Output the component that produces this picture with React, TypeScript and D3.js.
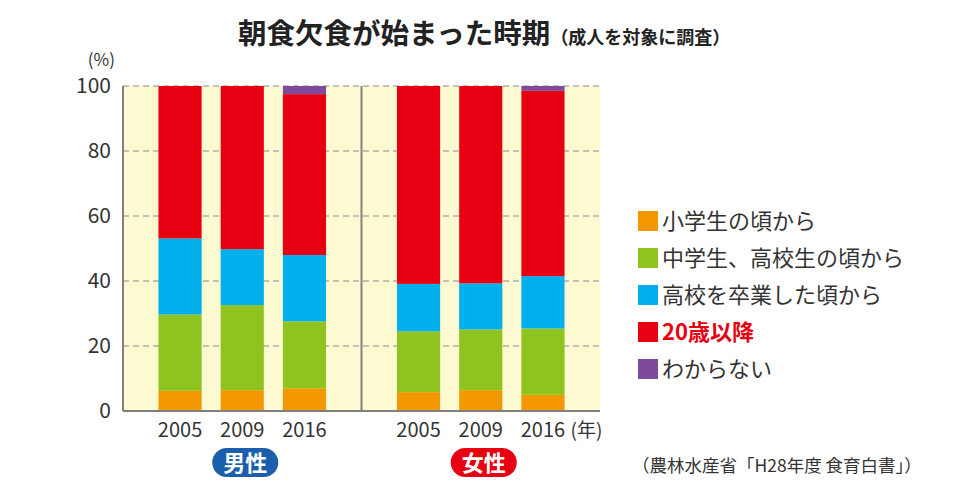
import { useEffect, useRef } from 'react';
import * as d3 from 'd3';

// categories
const panels = ['男性', '女性'];
const years = ['2005', '2009', '2016'];
const categories = ['小学生の頃から', '中学生、高校生の頃から', '高校を卒業した頃から', '20歳以降', 'わからない'];
const colors = ['#f39800', '#8fc31f', '#00afec', '#e60012', '#7f4a9c'];
const badgeColors = ['#1b5eac', '#e60012'];
const yTicks = [0, 20, 40, 60, 80, 100];

// values (%), order: 男性 2005/2009/2016, 女性 2005/2009/2016
const elementary = [6.2, 6.4, 7.0, 5.8, 6.4, 5.0];
const juniorHigh = [23.5, 26.2, 20.6, 18.7, 18.7, 20.4];
const afterHigh = [23.4, 17.2, 20.4, 14.6, 14.2, 16.1];
const over20 = [46.9, 50.2, 49.5, 60.9, 60.7, 57.0];
const unknown = [0, 0, 2.5, 0, 0, 1.5];

const series = [elementary, juniorHigh, afterHigh, over20, unknown];

const FONT = '"Noto Sans CJK JP", "Noto Sans", sans-serif';

export default function App() {
  const width = 960;
  const height = 500;
  const marginTop = 86;
  const marginBottom = 89;
  const marginLeft = 123;
  const plotRight = 600;

  const y = d3.scaleLinear().domain([0, 100]).range([height - marginBottom, marginTop]);
  const panelX = d3.scaleBand().domain(panels).range([marginLeft, plotRight]).padding(0);
  const yearX = d3.scaleBand().domain(years).range([0, panelX.bandwidth()])
    .paddingInner(0.306).paddingOuter(0.57).align(0.5);

  const rows = panels.flatMap((p, pi) => years.map((yr, yi) => {
    const i = pi * years.length + yi;
    const row: any = { panel: p, year: yr };
    categories.forEach((c, ci) => { row[c] = series[ci][i]; });
    return row;
  }));
  const stacked = d3.stack<any>().keys(categories)(rows);

  const gy = useRef<SVGGElement>(null);
  useEffect(() => {
    if (gy.current) {
      const g = d3.select(gy.current);
      g.selectAll('*').remove();
      g.call(d3.axisLeft(y).tickValues(yTicks).tickSize(0).tickPadding(10));
      g.select('.domain').remove();
      g.selectAll('text').attr('font-size', 21).attr('fill', '#333').attr('font-family', FONT);
    }
  }, []);

  const legendX = 638;
  const legendY0 = 220;
  const legendStep = 37;

  return (
    <svg width={width} height={height} style={{ position: 'absolute', left: 0, top: 0, background: '#fff' }}>
      {/* title */}
      <text x={238} y={44} fontFamily={FONT} fontWeight={700} fontSize={28.5} fill="#222">
        朝食欠食が始まった時期
        <tspan fontSize={18}>（成人を対象に調査）</tspan>
      </text>

      {/* background */}
      <rect x={marginLeft} y={y(100)} width={plotRight - marginLeft} height={y(0) - y(100)} fill="#fdfad2" />

      {/* gridlines */}
      {yTicks.filter(t => t > 0).map(t => (
        <line key={t} x1={marginLeft} x2={plotRight} y1={y(t)} y2={y(t)}
          stroke="#8a8a8a" strokeWidth={1} strokeDasharray="6,4" />
      ))}

      {/* bars */}
      {stacked.map((s, ci) => (
        <g key={ci} fill={colors[ci]}>
          {s.map((d, i) => (
            <rect key={i}
              x={(panelX(d.data.panel) ?? 0) + (yearX(d.data.year) ?? 0)}
              y={y(d[1])}
              width={yearX.bandwidth()}
              height={Math.max(0, y(d[0]) - y(d[1]))} />
          ))}
        </g>
      ))}

      {/* axes frame */}
      <line x1={marginLeft} x2={marginLeft} y1={y(100)} y2={y(0)} stroke="#808080" strokeWidth={2} />
      <line x1={marginLeft} x2={plotRight} y1={y(0)} y2={y(0)} stroke="#808080" strokeWidth={2} />
      <line x1={panelX('女性')} x2={panelX('女性')} y1={y(100)} y2={y(0)} stroke="#808080" strokeWidth={2} />

      <g ref={gy} transform={`translate(${marginLeft - 2},0)`} />
      <text x={115} y={66} textAnchor="end" fontFamily={FONT} fontSize={17} fill="#333">(%)</text>

      {/* year labels */}
      {rows.map((r, i) => (
        <text key={i} x={(panelX(r.panel) ?? 0) + (yearX(r.year) ?? 0) + yearX.bandwidth() / 2}
          y={437} textAnchor="middle" fontFamily={FONT} fontSize={20} fill="#333">{r.year}</text>
      ))}
      <text x={(panelX('女性') ?? 0) + (yearX('2016') ?? 0) + yearX.bandwidth() + 6} y={437}
        fontFamily={FONT} fontSize={19} fill="#333">(年)</text>

      {/* gender badges */}
      {panels.map((p, pi) => {
        const cx = (panelX(p) ?? 0) + (yearX('2009') ?? 0) + yearX.bandwidth() / 2 + 3;
        return (
          <g key={p}>
            <rect x={cx - 33} y={448} width={66} height={29} rx={14.5} fill={badgeColors[pi]} />
            <text x={cx} y={471} textAnchor="middle" fontFamily={FONT} fontWeight={700} fontSize={22} fill="#fff">{p}</text>
          </g>
        );
      })}

      {/* legend */}
      {categories.map((c, ci) => (
        <g key={c} transform={`translate(${legendX},${legendY0 + ci * legendStep})`}>
          <rect x={0} y={-9} width={20} height={20} fill={colors[ci]} />
          <text x={24} y={9} fontFamily={FONT} fontSize={22}
            fontWeight={ci === 3 ? 700 : 400} fill={ci === 3 ? '#e60012' : '#333'}>{c}</text>
        </g>
      ))}

      {/* source */}
      <text x={632} y={472} fontFamily={FONT} fontSize={17.5} fill="#333">（農林水産省「H28年度 食育白書」）</text>
    </svg>
  );
}
